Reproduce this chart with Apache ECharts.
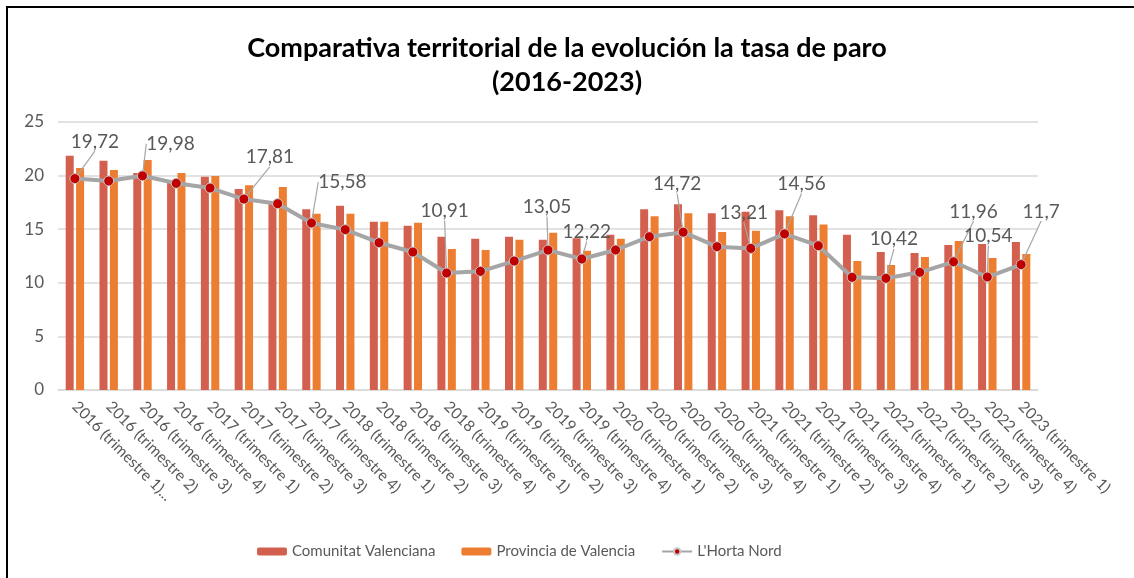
<!DOCTYPE html>
<html>
<head>
<meta charset="utf-8">
<script src="https://cdn.jsdelivr.net/npm/echarts@6/dist/echarts.min.js"></script>
<style>
  html, body { margin: 0; padding: 0; background: #fff; }
  #chart { width: 1134px; height: 578px; }
</style>
</head>
<body>
<div id="chart"></div>
<script>
// trimestres
var periodos = [
    '2016 (trimestre 1)...', '2016 (trimestre 2)', '2016 (trimestre 3)', '2016 (trimestre 4)',
    '2017 (trimestre 1)', '2017 (trimestre 2)', '2017 (trimestre 3)', '2017 (trimestre 4)',
    '2018 (trimestre 1)', '2018 (trimestre 2)', '2018 (trimestre 3)', '2018 (trimestre 4)',
    '2019 (trimestre 1)', '2019 (trimestre 2)', '2019 (trimestre 3)', '2019 (trimestre 4)',
    '2020 (trimestre 1)', '2020 (trimestre 2)', '2020 (trimestre 3)', '2020 (trimestre 4)',
    '2021 (trimestre 1)', '2021 (trimestre 2)', '2021 (trimestre 3)', '2021 (trimestre 4)',
    '2022 (trimestre 1)', '2022 (trimestre 2)', '2022 (trimestre 3)', '2022 (trimestre 4)',
    '2023 (trimestre 1)'
];
var comunitat = [21.86, 21.39, 20.24, 19.3, 19.9, 18.75, 17.55, 16.85, 17.19, 15.7,
    15.33, 14.3, 14.12, 14.3, 14.02, 14.15, 14.49, 16.85, 17.32, 16.48,
    16.63, 16.76, 16.29, 14.49, 12.87, 12.78, 13.53, 13.62, 13.81];
var provincia = [20.71, 20.52, 21.46, 20.24, 19.96, 19.1, 18.94, 16.45, 16.45, 15.7,
    15.61, 13.15, 13.06, 14.02, 14.68, 12.99, 14.12, 16.2, 16.48, 14.74,
    14.86, 16.2, 15.45, 12.03, 11.66, 12.41, 13.9, 12.31, 12.69];
var hortaNord = [19.72, 19.5, 19.98, 19.28, 18.84, 17.81, 17.38, 15.58, 14.96, 13.74,
    12.87, 10.91, 11.07, 12.03, 13.05, 12.22, 13.06, 14.3, 14.72, 13.37,
    13.21, 14.56, 13.46, 10.51, 10.42, 10.98, 11.96, 10.54, 11.7];
// puntos con etiqueta
var conEtiqueta = [0, 2, 5, 7, 11, 14, 15, 18, 20, 21, 24, 26, 27, 28];

// desplazamiento de las etiquetas (px) respecto al punto
var desplaz = {
    0: [20, -37], 2: [28, -32], 5: [26, -42], 7: [31, -41], 11: [-2, -62],
    14: [-1, -43], 15: [5, -27], 18: [-6, -48], 20: [-7, -36], 21: [17, -50],
    24: [8, -39], 26: [20, -50], 27: [1, -41], 28: [20, -53]
};

var fuente = 'Lato, "Open Sans", sans-serif';
var gris = '#595959';

var myChart = echarts.init(document.getElementById('chart'));

var lineaData = hortaNord.map(function (v, i) {
    return {
        value: v,
        label: { show: conEtiqueta.indexOf(i) >= 0 }
    };
});

myChart.setOption({
    textStyle: { fontFamily: fuente },
    title: {
        text: 'Comparativa territorial de la evolución la tasa de paro\n(2016-2023)',
        left: 'center',
        top: 26,
        textStyle: {
            fontFamily: fuente,
            fontSize: 27,
            fontWeight: 'bold',
            color: '#000',
            lineHeight: 34
        }
    },
    graphic: [{
        type: 'rect',
        shape: { x: 7, y: 7, width: 1300, height: 800 },
        style: { fill: 'none', stroke: '#000', lineWidth: 2 },
        silent: true
    }],
    legend: {
        bottom: 14,
        left: 252,
        itemWidth: 30,
        itemHeight: 8,
        itemGap: 26,
        textStyle: { fontFamily: fuente, fontSize: 15, color: gris },
        data: ['Comunitat Valenciana', 'Provincia de Valencia', "L'Horta Nord"]
    },
    grid: {
        left: 58,
        right: 96,
        top: 122,
        bottom: 188
    },
    xAxis: {
        type: 'category',
        data: periodos,
        axisLine: { show: true, lineStyle: { color: '#d9d9d9', width: 1.5 } },
        axisTick: { show: false },
        axisLabel: {
            rotate: -45,
            interval: 0,
            margin: 14,
            fontFamily: fuente,
            fontSize: 15.5,
            color: gris
        }
    },
    yAxis: {
        type: 'value',
        min: 0,
        max: 25,
        interval: 5,
        axisLine: { show: false },
        axisTick: { show: false },
        axisLabel: { fontFamily: fuente, fontSize: 17, color: gris, margin: 14 },
        splitLine: { lineStyle: { color: '#d9d9d9', width: 1.5 } }
    },
    series: [
        {
            name: 'Comunitat Valenciana',
            type: 'bar',
            data: comunitat,
            barWidth: 8,
            barGap: '30%',
            itemStyle: { color: '#D35F4E' }
        },
        {
            name: 'Provincia de Valencia',
            type: 'bar',
            data: provincia,
            barWidth: 8,
            barGap: '30%',
            itemStyle: { color: '#ED7D31' }
        },
        {
            name: "L'Horta Nord",
            type: 'line',
            data: lineaData,
            z: 5,
            symbol: 'circle',
            symbolSize: 10,
            lineStyle: { color: '#A5A5A5', width: 4 },
            itemStyle: { color: '#C00000', borderColor: '#c9c9c9', borderWidth: 1 },
            label: {
                show: false,
                position: 'inside',
                fontFamily: fuente,
                fontSize: 19,
                color: gris,
                formatter: function (p) {
                    return String(p.value).replace('.', ',');
                }
            },
            labelLine: {
                show: true,
                lineStyle: { color: '#a6a6a6', width: 1.2 }
            },
            labelLayout: function (p) {
                var d = desplaz[p.dataIndex] || [0, 0];
                return { dx: d[0], dy: d[1], hideOverlap: false };
            }
        }
    ]
});
</script>
</body>
</html>
